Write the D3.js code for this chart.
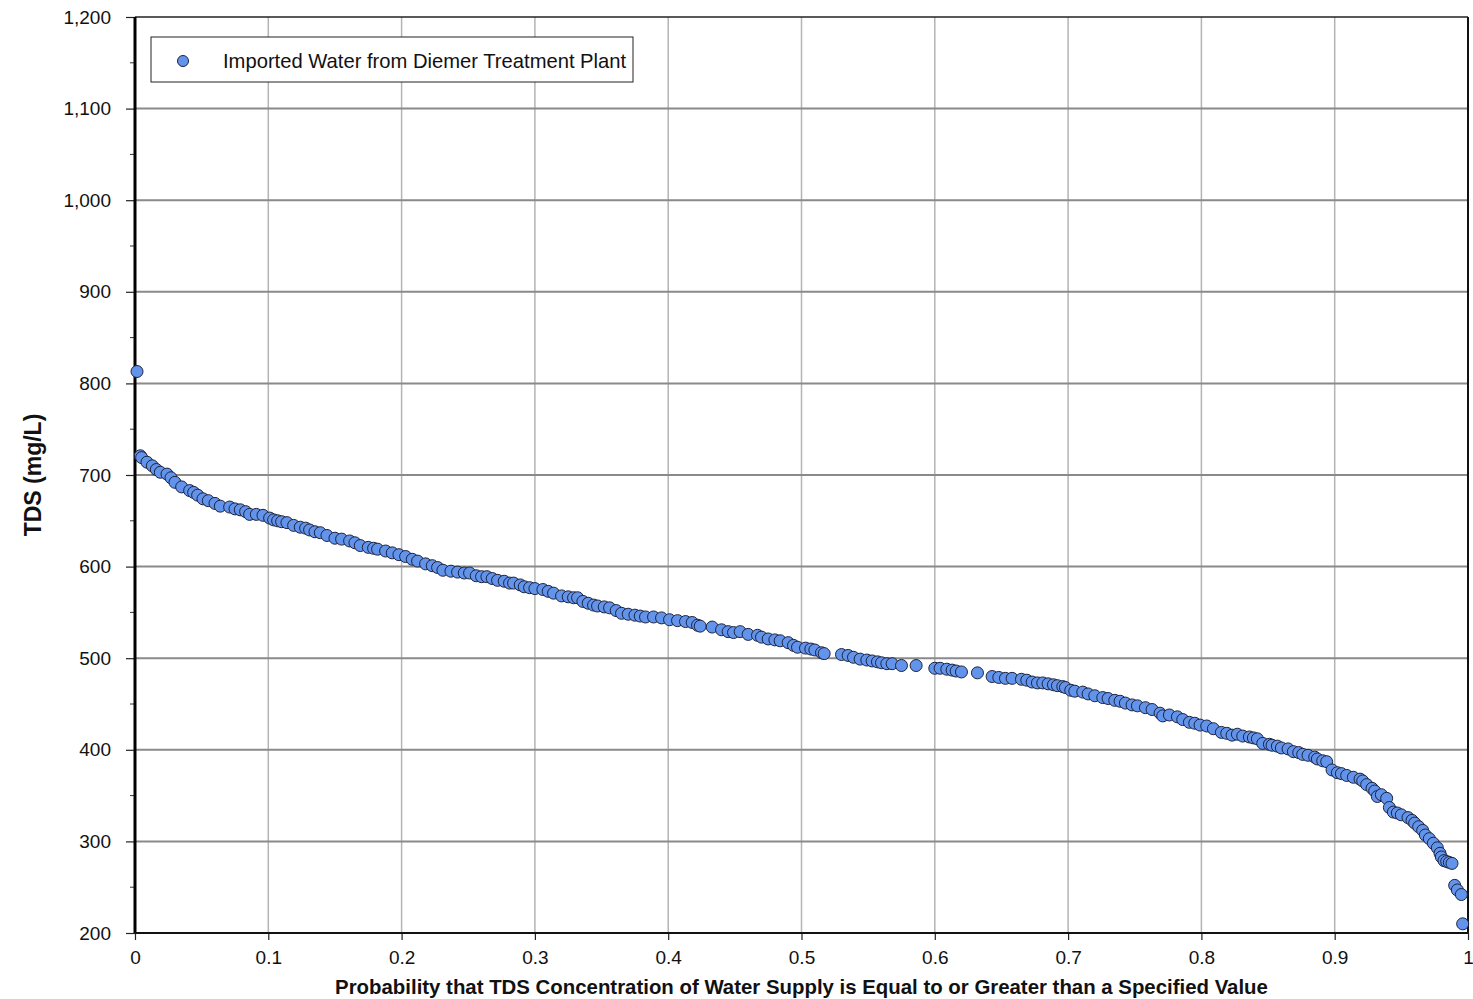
<!DOCTYPE html>
<html>
<head>
<meta charset="utf-8">
<script src="https://cdn.jsdelivr.net/npm/d3@7"></script>
<style>
  body { margin: 0; background: #fff; }
  text { font-family: "Liberation Sans", Arial, sans-serif; }
</style>
</head>
<body>
<script>
// exceedance probability of each sample
const probability = [
  0.0015, 0.004, 0.005, 0.009, 0.013, 0.016, 0.019, 0.024, 0.027, 0.030,
  0.035, 0.041, 0.044, 0.047, 0.051, 0.055, 0.060, 0.064, 0.071, 0.075,
  0.079, 0.083, 0.086, 0.091, 0.096, 0.101, 0.104, 0.107, 0.110, 0.114,
  0.119, 0.124, 0.128, 0.131, 0.135, 0.139, 0.144, 0.150, 0.155, 0.161,
  0.165, 0.169, 0.175, 0.179, 0.182, 0.188, 0.193, 0.198, 0.203, 0.208,
  0.212, 0.218, 0.223, 0.227, 0.231, 0.237, 0.242, 0.247, 0.251, 0.256,
  0.260, 0.264, 0.268, 0.272, 0.277, 0.281, 0.284, 0.289, 0.292, 0.296,
  0.300, 0.306, 0.310, 0.314, 0.320, 0.325, 0.329, 0.332, 0.336, 0.340,
  0.344, 0.347, 0.352, 0.356, 0.361, 0.365, 0.370, 0.375, 0.379, 0.383,
  0.389, 0.395, 0.401, 0.407, 0.413, 0.418, 0.422, 0.424, 0.433, 0.440,
  0.445, 0.449, 0.454, 0.460, 0.467, 0.470, 0.475, 0.480, 0.484, 0.490,
  0.494, 0.497, 0.503, 0.507, 0.510, 0.515, 0.517, 0.530, 0.535, 0.539,
  0.544, 0.549, 0.553, 0.557, 0.560, 0.564, 0.568, 0.575, 0.586, 0.600,
  0.604, 0.609, 0.613, 0.616, 0.620, 0.632, 0.643, 0.648, 0.653, 0.658,
  0.665, 0.669, 0.673, 0.677, 0.681, 0.685, 0.689, 0.692, 0.696, 0.698,
  0.702, 0.705, 0.711, 0.715, 0.720, 0.726, 0.730, 0.735, 0.739, 0.743,
  0.748, 0.752, 0.758, 0.763, 0.769, 0.771, 0.776, 0.782, 0.786, 0.791,
  0.795, 0.799, 0.804, 0.809, 0.815, 0.819, 0.823, 0.827, 0.831, 0.836,
  0.839, 0.842, 0.846, 0.851, 0.853, 0.857, 0.860, 0.865, 0.869, 0.873,
  0.876, 0.880, 0.885, 0.887, 0.891, 0.894, 0.898, 0.902, 0.905, 0.909,
  0.914, 0.919, 0.921, 0.924, 0.928, 0.930, 0.932, 0.935, 0.939, 0.941,
  0.944, 0.947, 0.950, 0.955, 0.958, 0.960, 0.963, 0.966, 0.968, 0.971,
  0.974, 0.977, 0.979, 0.980, 0.982, 0.984, 0.986, 0.988, 0.990, 0.992,
  0.995, 0.996
];

// TDS concentration (mg/L) of each sample
const tds = [
  813, 721, 719, 714, 710, 706, 703, 701, 697, 692,
  687, 683, 681, 678, 674, 672, 669, 666, 665, 663,
  662, 660, 657, 657, 656, 653, 651, 650, 649, 648,
  645, 643, 642, 640, 638, 637, 634, 631, 630, 628,
  626, 623, 621, 620, 619, 617, 615, 613, 611, 608,
  606, 603, 601, 599, 596, 595, 594, 593, 593, 590,
  589, 589, 587, 585, 584, 582, 582, 580, 578, 577,
  576, 575, 573, 571, 568, 567, 566, 566, 562, 560,
  558, 557, 556, 555, 552, 549, 548, 547, 546, 545,
  545, 544, 542, 541, 540, 539, 536, 535, 534, 531,
  529, 528, 529, 526, 525, 523, 521, 520, 519, 517,
  514, 512, 511, 510, 509, 506, 505, 504, 503, 501,
  499, 498, 497, 496, 495, 494, 494, 492, 492, 489,
  489, 488, 487, 486, 485, 484, 480, 479, 478, 478,
  477, 476, 474, 473, 473, 472, 471, 470, 469, 468,
  465, 464, 463, 461, 459, 457, 456, 454, 453, 451,
  449, 448, 446, 444, 440, 437, 438, 436, 433, 430,
  429, 427, 426, 423, 419, 418, 416, 417, 415, 414,
  413, 412, 407, 406, 405, 404, 402, 401, 398, 397,
  395, 394, 392, 390, 388, 387, 378, 375, 374, 372,
  370, 368, 366, 362, 358, 355, 349, 351, 347, 337,
  332, 331, 329, 326, 323, 320, 316, 312, 307, 303,
  298, 293, 287, 283, 279, 278, 277, 276, 252, 247,
  242, 210
];

const xTicks = [0, 0.1, 0.2, 0.3, 0.4, 0.5, 0.6, 0.7, 0.8, 0.9, 1];
const yTicks = [200, 300, 400, 500, 600, 700, 800, 900, 1000, 1100, 1200];
const yMinor = [250, 350, 450, 550, 650, 750, 850, 950, 1050, 1150];
const seriesName = "Imported Water from Diemer Treatment Plant";

const W = 1473, H = 999;
const margin = {top: 17, right: 5, bottom: 66, left: 135};
const width = W - margin.left - margin.right,
    height = H - margin.top - margin.bottom;

const x = d3.scaleLinear().domain([0, 1]).range([0, width]);
const y = d3.scaleLinear().domain([200, 1200]).range([height, 0]);

const svg = d3.select("body").append("svg")
    .attr("width", W)
    .attr("height", H);

const g = svg.append("g")
    .attr("transform", "translate(" + margin.left + "," + margin.top + ")");

// vertical grid
g.append("g")
    .selectAll("line")
    .data(xTicks.slice(1, -1))
    .join("line")
    .attr("x1", d => x(d)).attr("x2", d => x(d))
    .attr("y1", 0).attr("y2", height)
    .attr("stroke", "#b4b4b4")
    .attr("stroke-width", 1.5);

// horizontal grid
g.append("g")
    .selectAll("line")
    .data(yTicks.slice(1, -1))
    .join("line")
    .attr("x1", 0).attr("x2", width)
    .attr("y1", d => y(d)).attr("y2", d => y(d))
    .attr("stroke", "#8a8a8a")
    .attr("stroke-width", 2);

// top and right border
g.append("line")
    .attr("x1", 0).attr("x2", width).attr("y1", 0).attr("y2", 0)
    .attr("stroke", "#222").attr("stroke-width", 1.5);
g.append("line")
    .attr("x1", width).attr("x2", width).attr("y1", 0).attr("y2", height)
    .attr("stroke", "#111").attr("stroke-width", 2);

// y axis
const yAxis = g.append("g")
    .call(d3.axisLeft(y).tickValues(yTicks).tickSize(9).tickPadding(15)
        .tickFormat(d3.format(",")));
yAxis.select(".domain").remove();
yAxis.selectAll(".tick line").attr("stroke", "#222").attr("stroke-width", 1.2);
yAxis.selectAll("text")
    .attr("font-size", 19)
    .attr("fill", "#111")
    .style("font-family", "'Liberation Sans', Arial, sans-serif");

g.append("g")
    .selectAll("line")
    .data(yMinor)
    .join("line")
    .attr("x1", -5).attr("x2", 0)
    .attr("y1", d => y(d)).attr("y2", d => y(d))
    .attr("stroke", "#333").attr("stroke-width", 1);

// x axis
const xAxis = g.append("g")
    .attr("transform", "translate(0," + height + ")")
    .call(d3.axisBottom(x).tickValues(xTicks).tickSize(7).tickPadding(11)
        .tickFormat(d3.format("~g")));
xAxis.select(".domain").remove();
xAxis.selectAll(".tick line").attr("stroke", "#222").attr("stroke-width", 1.2);
xAxis.selectAll("text")
    .attr("font-size", 19)
    .attr("fill", "#111")
    .style("font-family", "'Liberation Sans', Arial, sans-serif");

// axis lines
g.append("line")
    .attr("x1", 0).attr("x2", 0).attr("y1", 0).attr("y2", height)
    .attr("stroke", "#000").attr("stroke-width", 3);
g.append("line")
    .attr("x1", 0).attr("x2", width).attr("y1", height).attr("y2", height)
    .attr("stroke", "#111").attr("stroke-width", 2);

// points
const points = probability.map((p, i) => ({p: p, v: tds[i]}));
g.append("g")
    .selectAll("circle")
    .data(points)
    .join("circle")
    .attr("cx", d => x(d.p))
    .attr("cy", d => y(d.v))
    .attr("r", 6)
    .attr("fill", "#6394ec")
    .attr("stroke", "#1c2340")
    .attr("stroke-width", 1);

// legend
const legend = svg.append("g").attr("transform", "translate(151,37)");
legend.append("rect")
    .attr("width", 482).attr("height", 45)
    .attr("fill", "#fff").attr("stroke", "#222").attr("stroke-width", 1);
legend.append("circle")
    .attr("cx", 32).attr("cy", 24).attr("r", 5.5)
    .attr("fill", "#6394ec").attr("stroke", "#1c2340").attr("stroke-width", 1);
legend.append("text")
    .attr("x", 72).attr("y", 31)
    .attr("font-size", 20.2)
    .attr("fill", "#111")
    .text(seriesName);

// axis titles
svg.append("text")
    .attr("x", margin.left + width / 2)
    .attr("y", 994)
    .attr("text-anchor", "middle")
    .attr("font-size", 20.4)
    .attr("font-weight", "bold")
    .attr("fill", "#111")
    .text("Probability that TDS Concentration of Water Supply is Equal to or Greater than a Specified Value");

svg.append("text")
    .attr("transform", "translate(41," + (margin.top + height / 2) + ") rotate(-90)")
    .attr("text-anchor", "middle")
    .attr("font-size", 23)
    .attr("font-weight", "bold")
    .attr("fill", "#111")
    .text("TDS (mg/L)");
</script>
</body>
</html>
